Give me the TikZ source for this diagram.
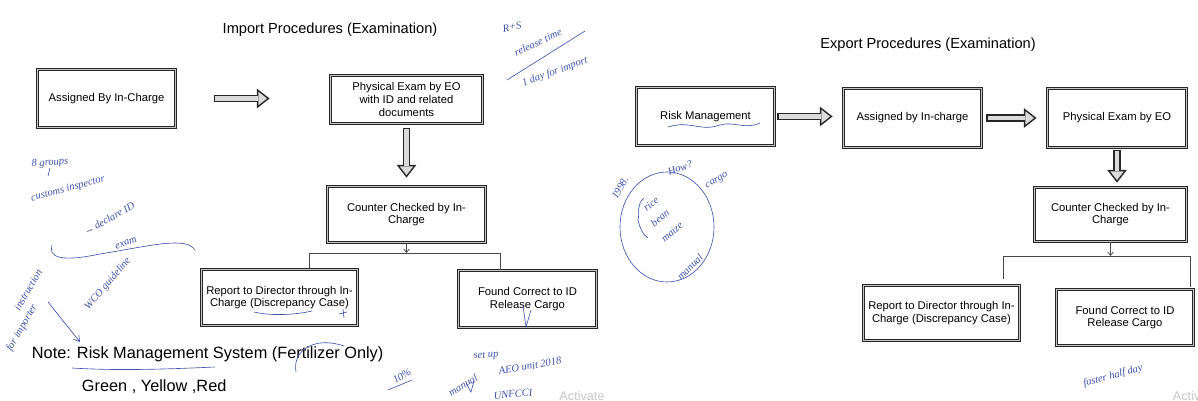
\documentclass[tikz,border=0pt]{standalone}
\usepackage{fontspec}
\setmainfont{Liberation Sans}
\newfontfamily\handfont{Liberation Serif}
\usetikzlibrary{arrows.meta,positioning}
\definecolor{inkblue}{RGB}{62,82,170}

\tikzset{
  procbox/.style={draw=black!85,line width=0.7pt,double=gray!45,double distance=1.3pt,align=center,inner sep=2pt,font=\fontsize{8}{9}\selectfont},
  hollowout/.style={draw=black!85,line width=5.2pt,-{Triangle[length=9pt,width=14pt,line width=0pt]}},
  hollowin/.style={draw=gray!28,line width=3pt,-{Triangle[length=6.1pt,width=9.5pt,line width=0pt]}},
  thinarrow/.style={draw=gray!55!black,line width=0.5pt,-{Straight Barb[length=2.5pt,width=4pt]}},
  branch/.style={draw=gray!55!black,line width=0.5pt},
  pen/.style={text=inkblue,font=\handfont\itshape\fontsize{7.5}{8}\selectfont,inner sep=0pt},
  ink/.style={draw=inkblue,line width=0.45pt},
}

\begin{document}
\begin{tikzpicture}[x=0.025cm,y=-0.025cm]
\useasboundingbox (0,0) rectangle (1198,401);

\node[font=\fontsize{10.4}{12}\selectfont] (imptitle) at (330,30) {Import Procedures (Examination)};
\node[procbox,minimum width=3.45cm,minimum height=1.45cm] (imp1) at (106.5,98.5) {Assigned By In-Charge};
\node[procbox,minimum width=3.8cm,minimum height=1.2cm] (imp2) at (406.5,99.5) {Physical Exam by EO\\with ID and related\\documents};
\node[procbox,minimum width=3.95cm,minimum height=1.4cm] (imp3) at (406.5,214.5) {Counter Checked by In-\\Charge};
\node[procbox,minimum width=3.9cm,minimum height=1.4cm] (imp4) at (279.5,297.5) {Report to Director through In-\\Charge (Discrepancy Case)};
\node[procbox,minimum width=3.45cm,minimum height=1.425cm] (imp5) at (527.5,299) {Found Correct to ID\\Release Cargo};
\draw[hollowout,shorten <=0.94cm,shorten >=1.51cm] (imp1.east) -- (imp1.east -| imp2.west);
\draw[hollowin,shorten <=0.94cm+1.1pt,shorten >=1.51cm+1.8pt] (imp1.east) -- (imp1.east -| imp2.west);
\draw[hollowout,shorten <=0.09cm,shorten >=0.21cm] (imp2.south) -- (imp2.south |- imp3.north);
\draw[hollowin,shorten <=0.09cm+1.1pt,shorten >=0.21cm+1.8pt] (imp2.south) -- (imp2.south |- imp3.north);
\coordinate (imp-l) at (309,253);
\coordinate (imp-r) at (500,253);
\draw[thinarrow] (imp3.south) -- (imp3.south |- imp-l);
\draw[branch] (imp4.north -| imp-l) -- (imp-l) -- (imp-r) -- (imp5.north -| imp-r);
\node[anchor=west,font=\fontsize{11.6}{13}\selectfont] (note) at (27,354) {Note: Risk Management System (Fertilizer Only)};
\node[anchor=west,font=\fontsize{11.6}{13}\selectfont] (colours) at (77,387) {Green , Yellow ,Red};

\node[font=\fontsize{10.4}{12}\selectfont] (exptitle) at (928,45) {Export Procedures (Examination)};
\node[procbox,minimum width=3.45cm,minimum height=1.45cm] (exp1) at (705.5,116.5) {Risk Management};
\node[procbox,minimum width=3.45cm,minimum height=1.475cm] (exp2) at (912.5,118) {Assigned by In-charge};
\node[procbox,minimum width=3.475cm,minimum height=1.475cm] (exp3) at (1117,118) {Physical Exam by EO};
\node[procbox,minimum width=3.8cm,minimum height=1.35cm] (exp4) at (1110.5,214.5) {Counter Checked by In-\\Charge};
\node[procbox,minimum width=3.9cm,minimum height=1.375cm] (exp5) at (941.5,313) {Report to Director through In-\\Charge (Discrepancy Case)};
\node[procbox,minimum width=3.425cm,minimum height=1.4cm] (exp6) at (1125,317.5) {Found Correct to ID\\Release Cargo};
\draw[hollowout,shorten <=0.06cm,shorten >=0.26cm] (exp1.east) -- (exp1.east -| exp2.west);
\draw[hollowin,shorten <=0.06cm+1.1pt,shorten >=0.26cm+1.8pt] (exp1.east) -- (exp1.east -| exp2.west);
\draw[hollowout,shorten <=0.11cm,shorten >=0.26cm] (exp2.east) -- (exp2.east -| exp3.west);
\draw[hollowin,shorten <=0.11cm+1.1pt,shorten >=0.26cm+1.8pt] (exp2.east) -- (exp2.east -| exp3.west);
\draw[hollowout,shorten <=0.04cm,shorten >=0.11cm] (exp3.south) -- (exp3.south |- exp4.north);
\draw[hollowin,shorten <=0.04cm+1.1pt,shorten >=0.11cm+1.8pt] (exp3.south) -- (exp3.south |- exp4.north);
\coordinate (exp-l) at (1003,256);
\coordinate (exp-r) at (1190,256);
\draw[thinarrow] (exp4.south) -- (exp4.south |- exp-l);
\draw[branch,shorten <=0.15cm,shorten >=0.05cm] (exp5.north -| exp-l) -- (exp-l) -- (exp-r) -- (exp6.north -| exp-r);

% handwritten notes
\node[pen,rotate=10] (hw1) at (512,27) {R+S};
\node[pen,rotate=25] (hw2) at (538,42) {release time};
\draw[ink] (507,80) -- (585,31);
\node[pen,rotate=20] (hw3) at (555,72) {1 day for import};
\node[pen,rotate=5] (hw4) at (50,163) {8 groups};
\draw[ink] (48,176) -- (50,168);
\node[pen,rotate=15] (hw5) at (68,189) {customs inspector};
\node[pen,rotate=30] (hw6) at (110,218) {-- declare ID};
\node[pen,rotate=20] (hw7) at (126,243) {exam};
\draw[ink] (52,245) .. controls (48,258) and (62,262) .. (100,254) .. controls (150,246) and (186,236) .. (195,250);
\node[pen,rotate=50] (hw8) at (108,284) {WCO guideline};
\node[pen,rotate=60] (hw9) at (28,290) {instruction};
\node[pen,rotate=60] (hw10) at (22,328) {for importer};
\draw[ink,-{Straight Barb[length=4pt,width=5pt]}] (48,302) -- (80,342);
\draw[ink] (72,368) .. controls (120,371) and (170,369) .. (215,367);
\draw[ink] (296,372) .. controls (292,350) and (315,336) .. (344,346);
\node[pen,rotate=30] (hw11) at (402,376) {10\%};
\draw[ink] (388,390) -- (412,380);
\node[pen,rotate=30] (hw12) at (463,385) {manual};
\draw[ink] (254,312) .. controls (270,316) and (295,315) .. (312,311);
\draw[ink] (339,314) -- (347,312) (343,309) -- (344,318);
\draw[ink] (523,306) -- (526,327) -- (531,310);
\node[pen,rotate=5] (hw13) at (486,356) {set up};
\node[pen,rotate=10] (hw14) at (530,366) {AEO unit 2018};
\draw[ink] (466,383) -- (471,392) -- (474,381);
\node[pen,rotate=5] (hw15) at (513,394) {UNFCCI};
\node[text=gray!45,font=\fontsize{9}{10}\selectfont] (wm1) at (582,396) {Activate};

\draw[ink] (668,127) .. controls (690,120) and (700,132) .. (720,125) .. controls (735,121) and (745,130) .. (760,123);
\node[pen,rotate=60] (hw16) at (620,188) {1998.};
\node[pen,rotate=20] (hw17) at (680,168) {How?};
\node[pen,rotate=30] (hw18) at (717,181) {cargo};
\draw[ink] (667,227) ellipse [x radius=47,y radius=55];
\node[pen,rotate=40] (hw19) at (651,204) {rice};
\node[pen,rotate=40] (hw20) at (660,218) {bean};
\node[pen,rotate=40] (hw21) at (672,232) {maize};
\draw[ink] (644,198) .. controls (636,205) and (640,212) .. (638,220) .. controls (640,228) and (642,234) .. (648,238);
\node[pen,rotate=45] (hw22) at (690,267) {manual};
\node[pen,rotate=15] (hw23) at (1113,376) {faster half day};
\node[text=gray!45,font=\fontsize{9}{10}\selectfont,anchor=west] (wm2) at (1168,396) {Activate};
\end{tikzpicture}
\end{document}
